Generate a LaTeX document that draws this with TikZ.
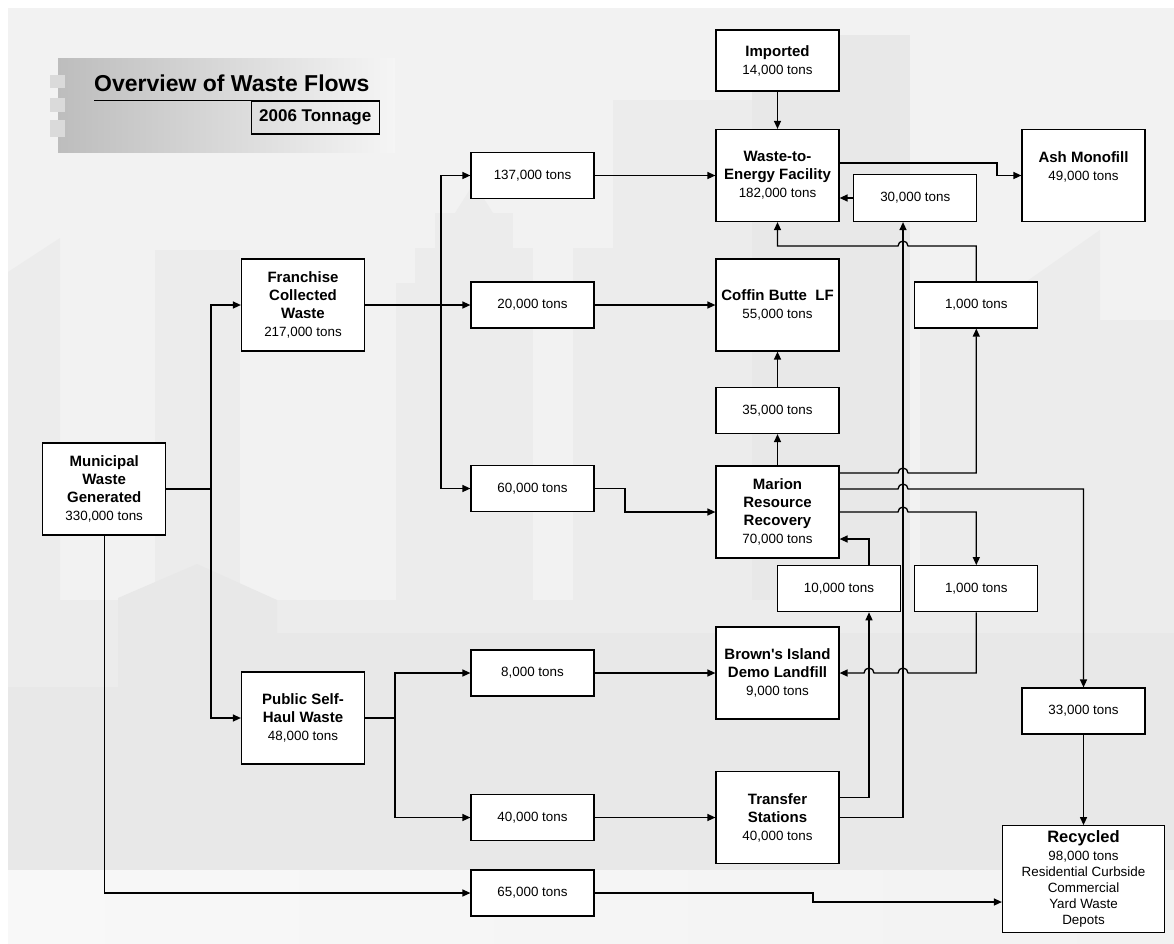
\documentclass[tikz,border=0pt]{standalone}
\usepackage{fontspec}
\setmainfont{Liberation Sans}
\usetikzlibrary{arrows.meta,calc}

\definecolor{bgbase}{HTML}{F2F2F2}
\definecolor{bgbldg}{HTML}{ECECEC}
\definecolor{bgbldgdk}{HTML}{E8E8E8}
\definecolor{bgpale}{HTML}{F8F8F8}
\definecolor{bandL}{HTML}{BDBDBD}
\definecolor{bandR}{HTML}{F5F5F5}
\definecolor{notch}{HTML}{DADADA}

% bold first lines of the boxes
\newcommand{\boxhead}[1]{{\fontsize{15}{18}\selectfont\bfseries #1}}

\begin{document}
\begin{tikzpicture}[x=1pt,y=-1pt,
  box/.style={draw=black,fill=white,line width=1.2pt,align=center,inner sep=0pt,
    font=\fontsize{13.4}{18}\selectfont,minimum width=123pt},
  bigbox/.style={box,minimum height=92pt},
  tonbox/.style={box,minimum height=46pt},
  flow/.style={line width=1.3pt,-{Triangle[length=8pt,width=7pt]}},
  wire/.style={line width=1.3pt},
]

% ---------- page and faint skyline backdrop ----------
\fill[white] (0,0) rectangle (1174,943);
\useasboundingbox (0,0) rectangle (1174,943);
\fill[bgbase] (8,8) rectangle (1174,943);
\fill[bgbldg] (8,272) -- (60,238) -- (60,600) -- (8,600) -- cycle;
\fill[bgbldg] (155,250) rectangle (240,600);
\fill[bgbldg] (396,283) rectangle (415,600);
\fill[bgbldg] (415,248) rectangle (435,600);
\fill[bgbldg] (435,213) rectangle (513,600);
\fill[bgbldg] (455,213) -- (474,183) -- (493,213) -- cycle;
\fill[bgbldg] (513,248) rectangle (533,600);
\fill[bgbldg] (573,248) rectangle (613,600);
\fill[bgbldg] (613,100) rectangle (752,600);
\fill[bgbldgdk] (752,35) rectangle (910,600);
\fill[bgbldg] (920,300) rectangle (1000,600);
\fill[bgbldg] (1000,300) -- (1100,230) -- (1100,600) -- (1000,600) -- cycle;
\fill[bgbldg] (1100,320) rectangle (1174,600);
\fill[bgbldg] (8,600) rectangle (1174,870);
\fill[bgbldgdk] (118,598) -- (197,564) -- (277,600) -- (277,870) -- (118,870) -- cycle;
\fill[bgbldgdk] (8,687) rectangle (118,870);
\fill[bgbldgdk] (277,633) rectangle (1174,870);
\shade[left color=bgpale,right color=bgbase] (8,870) rectangle (1174,943);

% ---------- title block ----------
\shade[left color=bandL,right color=bandR] (58,58) rectangle (395,152);
\fill[notch] (50,75) rectangle (65,88);
\fill[notch] (50,98) rectangle (65,112);
\fill[notch] (50,120) rectangle (65,137);
\node[anchor=base west,inner sep=0pt,font=\fontsize{23}{26}\selectfont\bfseries]
  (title) at (94,91.7) {Overview of Waste Flows};
\draw[line width=1.3pt] (94,100.7) -- (380,100.7);
\node[draw=black,line width=1.2pt,inner sep=0pt,anchor=north east,
  minimum width=128.3pt,minimum height=32.6pt,font=\fontsize{17}{20}\selectfont\bfseries]
  (year) at (380,100.7) {2006 Tonnage};

% ---------- nodes ----------
\node[bigbox] (muni) at (104.2,489) {\boxhead{Municipal}\\\boxhead{Waste}\\\boxhead{Generated}\\330,000 tons};
\node[bigbox] (fran) at (303,305) {\boxhead{Franchise}\\\boxhead{Collected}\\\boxhead{Waste}\\217,000 tons};
\node[bigbox] (pub)  at (303,718) {\boxhead{Public Self-}\\\boxhead{Haul Waste}\\48,000 tons};

\node[tonbox] (t137) at (532.5,175.5) {137,000 tons};
\node[tonbox] (t20)  at (532.5,305)   {20,000 tons};
\node[tonbox] (t60)  at (532.5,488.5) {60,000 tons};
\node[tonbox] (t8)   at (532.5,673)   {8,000 tons};
\node[tonbox] (t40)  at (532.5,817.5) {40,000 tons};
\node[tonbox] (t65)  at (532.5,893)   {65,000 tons};

\node[box,minimum height=61pt] (imp) at (777.5,60.5) {\boxhead{Imported}\\14,000 tons};
\node[bigbox] (wte)  at (777.5,175.5) {\boxhead{Waste-to-}\\\boxhead{Energy Facility}\\182,000 tons};
\node[tonbox,minimum height=47pt] (t30) at (915.3,198) {30,000 tons};
\node[bigbox] (ash)  at (1083.5,175.5) {\boxhead{Ash Monofill}\\49,000 tons\\\mbox{}};
\node[bigbox] (cof)  at (777.5,305) {\boxhead{Coffin Butte\ \ LF}\\55,000 tons};
\node[tonbox] (one1) at (976.3,305) {1,000 tons};
\node[tonbox] (t35)  at (777.5,410.5) {35,000 tons};
\node[bigbox] (mrr)  at (777.5,512) {\boxhead{Marion}\\\boxhead{Resource}\\\boxhead{Recovery}\\70,000 tons};
\node[tonbox] (t10)  at (839,588.7) {10,000 tons};
\node[tonbox] (one2) at (976.3,588.7) {1,000 tons};
\node[bigbox] (brown) at (777.5,673) {\boxhead{Brown\textquotesingle s Island}\\\boxhead{Demo Landfill}\\9,000 tons};
\node[tonbox] (t33)  at (1083.5,711) {33,000 tons};
\node[bigbox] (ts)   at (777.5,817.5) {\boxhead{Transfer}\\\boxhead{Stations}\\40,000 tons};
\node[box,minimum width=162pt,minimum height=107pt,font=\fontsize{13.4}{16}\selectfont]
  (rec) at (1083.5,879.2)
  {{\fontsize{16.5}{18}\selectfont\bfseries Recycled}\\[2pt]98,000 tons\\Residential Curbside\\Commercial\\Yard Waste\\Depots};

% ---------- connectors ----------
% municipal waste splits three ways
\coordinate (jm) at (211,489);
\draw[wire] (muni.east) -- (jm);
\draw[flow] (jm) |- (fran.west);
\draw[flow] (jm) |- (pub.west);
\draw[flow] (muni.south) |- (t65.west);

% franchise collected waste
\coordinate (jf) at (441,305);
\draw[flow] (fran.east) -- (t20.west);
\draw[flow] (jf) |- (t137.west);
\draw[flow] (jf) |- (t60.west);

% public self-haul
\coordinate (jp) at (395,718);
\draw[wire] (pub.east) -- (jp);
\draw[flow] (jp) |- (t8.west);
\draw[flow] (jp) |- (t40.west);

% tonnage boxes to facilities
\draw[flow] (t137.east) -- (wte.west);
\draw[flow] (t20.east) -- (cof.west);
\coordinate (k60) at (625,512);
\draw[flow] (t60.east) -| (k60) -- (k60 -| mrr.west);
\draw[flow] (t8.east) -- (brown.west);
\draw[flow] (t40.east) -- (ts.west);
\coordinate (k65) at (813,902);
\draw[flow] (t65.east) -| (k65) -- (k65 -| rec.west);

% waste-to-energy
\draw[flow] (imp.south) -- (wte.north);
\coordinate (kash) at (997,175.5);
\draw[flow] ([yshift=12.5pt]wte.east) -| (kash) -- (ash.west);
\draw[flow] (t30.west) -- (t30.west -| wte.east);
\draw[flow] (one1.north) -- (976.3,246) -- (908,246)
  arc[start angle=0,end angle=180,radius=5pt] -- (777.5,246) -- (wte.south);

% coffin butte
\draw[flow] (mrr.north) -- (t35.south);
\draw[flow] (t35.north) -- (cof.south);

% marion resource recovery outputs
\draw[flow] ([yshift=39pt]mrr.east) -- (898,473)
  arc[start angle=180,end angle=0,radius=5pt] -| (one1.south);
\draw[flow] ([yshift=23pt]mrr.east) -- (898,489)
  arc[start angle=180,end angle=0,radius=5pt] -| (t33.north);
\draw[flow] (mrr.east) -- (898,512)
  arc[start angle=180,end angle=0,radius=5pt] -| (one2.north);
\draw[flow] ([xshift=30pt]t10.north) |- ([yshift=-27pt]mrr.east);

% demo landfill return
\draw[flow] (one2.south) |- (908,673)
  arc[start angle=0,end angle=180,radius=5pt] -- (874,673)
  arc[start angle=0,end angle=180,radius=5pt] -- (brown.east);

% transfer stations
\draw[flow] ([yshift=20pt]ts.east) -| ([xshift=30pt]t10.south);
\draw[flow] (ts.east) -| ([xshift=-12.3pt]t30.south);

% recycling
\draw[flow] (t33.south) -- (rec.north);

\end{tikzpicture}
\end{document}
